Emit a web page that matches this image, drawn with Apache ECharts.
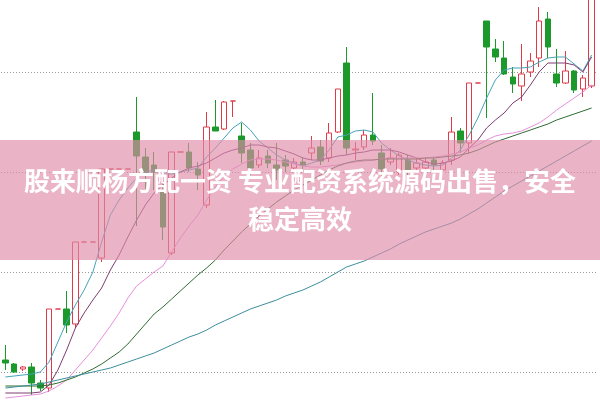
<!DOCTYPE html>
<html><head><meta charset="utf-8">
<script src="https://cdn.jsdelivr.net/npm/echarts@6/dist/echarts.min.js"></script>
<style>html,body{margin:0;padding:0;background:#fff}#c{width:600px;height:400px}</style>
</head><body><div id="c"></div>
<script>
// trading days (labels not shown)
const days = [];
for (let d = 1; d <= 68; d++) days.push('D' + d);

const openP  = [12,8,3,5,-11,-16,63,63,48,130, 130,114,203,203,203,240,215,207,180,119, 220,220,203,167,245,243,271,236,222,207, 216,207,212,204,210,219,225,214,240,309, 222,225,237,219,210,200,212,204,204,212, 202,212,241,229,289,351,323,314,295,286, 300,314,353,298,289,301,283,286];
const closeP = [9,0,5,-11,-16,63,63,47,130,130, 130,203,203,203,203,216,197,200,145,220, 220,204,197,245,241,270,271,219,204,214, 209,202,206,210,207,224,211,239,283,224, 223,237,231,203,214,217,202,209,210,207, 209,240,229,289,289,325,315,298,288,298, 311,351,325,289,301,282,294,382];
const lowP   = [2,-1,1,-23,-19,-20,63,39,44,130, 130,110,203,203,203,146,182,182,132,117, 220,200,182,164,241,242,255,209,197,204, 204,192,200,200,202,212,207,210,239,217, 212,222,227,196,207,197,192,200,202,202, 200,207,219,219,289,254,310,297,279,271, 295,305,314,285,288,279,275,284];
const highP  = [27,9,6,9,-8,63,63,81,130,130, 130,203,203,203,203,275,224,220,194,220, 220,229,210,260,272,271,271,249,229,222, 222,229,217,214,215,236,232,249,283,325, 230,242,279,227,224,219,217,214,214,215, 212,255,244,289,289,351,333,331,305,328, 319,365,360,323,321,302,297,382];

const ma5  = [-5,-4,-3,-2,0,10,30,50,67,82, 100,130,157,172,184,194,200,202,198,198, 200,202,204,215,224,234,244,250,242,231, 224,217,212,209,206,209,212,222,235,237, 241,242,240,229,222,216,212,209,207,206, 207,214,222,237,254,274,292,302,304,304, 305,310,314,315,315,308,301,317];
const ma10 = [-21,-21,-21,-21,-20,-13,2,22,44,59, 72,84,102,117,135,152,167,179,187,194, 200,204,206,209,214,219,222,224,227,227, 225,224,221,218,214,212,212,214,216,217, 219,220,222,222,222,220,217,214,210,208, 209,211,215,224,232,244,252,259,269,275, 287,300,309,309,309,307,300,315];
const ma20 = [-26,-25,-24,-23,-22,-19,-14,-8,2,12, 22,34,46,59,74,86,93,100,106,120, 134,146,157,172,185,196,203,208,212,213, 213,212,210,208,206,205,205,206,207,209, 210,211,212,213,214,214,214,214,214,215, 216,218,220,224,227,232,236,238,239,241, 245,249,255,262,268,274,280,287];
const ma30 = [-14,-14,-14,-14,-14,-13,-11,-8,-5,-1, 3,8,14,20,28,38,48,58,65,73, 81,89,97,104,112,122,131,140,148,156, 163,170,176,182,187,192,197,202,206,209, 211,212,212,213,213,213,213,213,214,214, 215,216,217,219,222,226,230,233,236,239, 242,245,248,252,255,258,261,264];
const ma60 = [-16,-15,-14,-13,-12,-10,-8,-6,-4,-2, 0,2,4,7,10,13,16,19,23,27, 31,35,38,42,47,51,55,59,63,66, 69,72,76,79,82,86,90,95,100,105, 108,111,115,119,123,128,132,136,140,143, 146,149,153,158,163,169,175,181,186,191, 196,201,206,211,216,221,226,231];

const bannerText = '股来顺杨方配一资 专业配资系统源码出售，安全\n稳定高效';

const kData = openP.map((o, i) => [o, closeP[i], lowP[i], highP[i]]);

function maSeries(name, data, color) {
  return {
    name: name, type: 'line', data: data, symbol: 'none', showSymbol: false,
    smooth: false, silent: true, z: 3,
    lineStyle: { color: color, width: 1 }
  };
}

const chart = echarts.init(document.getElementById('c'), null, { renderer: 'canvas' });
chart.setOption({
  animation: false,
  backgroundColor: '#ffffff',
  grid: { left: 1, right: 4, top: 0, bottom: 0 },
  xAxis: { type: 'category', data: days, boundaryGap: true, show: false },
  yAxis: {
    type: 'value', min: -28, max: 372,
    axisLine: { show: false }, axisTick: { show: false }, axisLabel: { show: false },
    splitLine: { show: true, showMinLine: false, showMaxLine: false,
      lineStyle: { color: '#9a9a9a', type: [1, 2], width: 1 } }
  },
  series: [
    {
      type: 'candlestick', data: kData, barWidth: 6, silent: true, z: 2,
      itemStyle: { color: '#ffffff', color0: '#1b9a2b', borderColor: '#df3a48', borderColor0: '#1b9a2b', borderWidth: 1 }
    },
    maSeries('MA5', ma5, '#45a3b8'),
    maSeries('MA10', ma10, '#7d3d70'),
    maSeries('MA20', ma20, '#e690dc'),
    maSeries('MA30', ma30, '#2f6c32'),
    maSeries('MA60', ma60, '#3b8f9c')
  ],
  graphic: [
    { type: 'rect', z: 100, shape: { x: 0, y: 140, width: 600, height: 120 },
      style: { fill: 'rgba(222,140,168,0.65)' } },
    { type: 'text', z: 101, x: 300, y: 200,
      style: { text: bannerText, fill: '#ffffff', font: 'bold 26px "Noto Sans CJK SC"',
        textAlign: 'center', textVerticalAlign: 'middle', lineHeight: 38 } }
  ]
});
</script>
</body></html>
